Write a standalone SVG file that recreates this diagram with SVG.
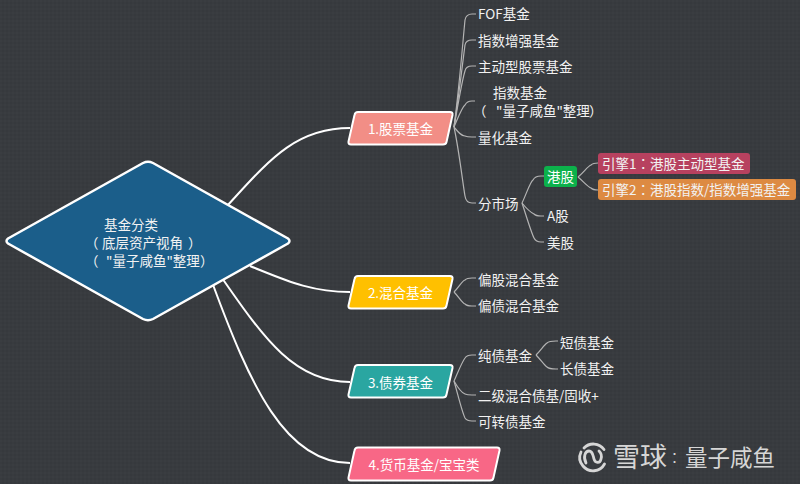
<svg xmlns="http://www.w3.org/2000/svg" width="800" height="484" viewBox="0 0 800 484">
<style>
text{font-family:"Noto Sans CJK SC","Noto Sans",sans-serif;font-size:13.5px;fill:#f2f2f2}
.c{text-anchor:middle;fill:#fff}
.tc{font-family:"Noto Sans CJK TC","Noto Sans",sans-serif}
.main{fill:none;stroke:#fff;stroke-width:2}
.sub{fill:none;stroke:#b4b4b4;stroke-width:1.2}
.box{stroke:#fff;stroke-width:2;stroke-linejoin:round}
.wm{fill:#d6d6d6}
.logo{fill:none;stroke:#d6d6d6;stroke-width:2.800;stroke-linecap:round}
</style>
<defs>
<pattern id="weave" width="4" height="4" patternUnits="userSpaceOnUse">
<rect width="4" height="4" fill="#383b3f"/>
<rect width="2" height="2" fill="#3a3d41"/>
<rect x="2" y="2" width="2" height="2" fill="#36393d"/>
</pattern>
</defs>
<rect width="800" height="484" fill="url(#weave)"/>

<g id="connectors">
<path class="main" d="M212,222C262,170 288,128 350,128"/>
<path class="main" d="M250,266C285,280 310,292 350,292"/>
<path class="main" d="M222,278C265,340 295,382 350,382"/>
<path class="main" d="M212,282C250,385 285,463 350,463"/>
<path class="sub" d="M454,127C459,90 463,40 465,20Q466,14 472,14H476"/>
<path class="sub" d="M454,127C459,95 463,60 465,45Q466,40 472,40H476"/>
<path class="sub" d="M454,127C458,105 462,80 465,71Q466,66 472,66H476"/>
<path class="sub" d="M454,127C458,118 462,107 465,105Q467,101 472,101H475"/>
<path class="sub" d="M454,127C458,132 461,136 465,136Q467,137 472,137H476"/>
<path class="sub" d="M454,127C459,150 463,185 465,196Q466,203 472,203H476"/>
<path class="sub" d="M522,203C526,195 530,182 533,180Q535,176 541,176H544"/>
<path class="sub" d="M522,203C526,208 530,212 534,214Q536,216 541,216H544"/>
<path class="sub" d="M522,203C526,215 531,232 534,238Q536,242 541,242H544"/>
<path class="sub" d="M578,177C584,172 588,166 591,165Q593,163 598,163"/>
<path class="sub" d="M578,177C584,182 588,187 591,188Q593,190 598,190"/>
<path class="sub" d="M454,292C459,287 462,281 465,280Q467,278 472,278H476"/>
<path class="sub" d="M454,292C459,297 462,303 465,304Q467,306 472,306H476"/>
<path class="sub" d="M454,381C458,372 462,362 465,358Q467,355 472,355H476"/>
<path class="sub" d="M454,381C458,388 462,393 465,394Q467,395 472,395H476"/>
<path class="sub" d="M454,381C458,395 462,412 465,418Q467,421 472,421H476"/>
<path class="sub" d="M536,355C541,350 544,345 547,343Q549,341 556,341H558"/>
<path class="sub" d="M536,355C541,360 544,365 547,367Q549,369 556,369H558"/>
</g>

<g id="root">
<path d="M8,238.500L143,163Q148,160.500 153,163L288,238.500Q291,241 288,243.500L153,319Q148,321.500 143,319L8,243.500Q5,241 8,238.500Z" fill="#1b5e8a" stroke="#fff" stroke-width="2.500" stroke-linejoin="round"/>
<text x="104" y="230">基金分类</text>
<text x="85" y="248">（</text>
<text x="102" y="248">底层资产视角</text>
<text x="188" y="248">）</text>
<text x="85" y="266">（</text>
<text x="106" y="266">"量子咸鱼"整理</text>
<text x="200" y="266">）</text>
</g>

<g id="n1"><path class="box" d="M358,112H450Q453,112 452.500,115L446.500,142Q446,144.500 443,144.500H351Q348,144.500 348.500,141.500L354.500,115Q355,112 358,112Z" fill="#f28e86"/><text class="c" x="400.500" y="134">1.股票基金</text></g>
<g id="n2"><path class="box" d="M358,276H450Q453,276 452.500,279L446.500,305.500Q446,308.500 443,308.500H351Q348,308.500 348.500,305.500L354.500,279Q355,276 358,276Z" fill="#ffc000"/><text class="c" x="400.500" y="298">2.混合基金</text></g>
<g id="n3"><path class="box" d="M358,365H450Q453,365 452.500,368L446.500,394.500Q446,397.500 443,397.500H351Q348,397.500 348.500,394.500L354.500,368Q355,365 358,365Z" fill="#2aa6a1"/><text class="c" x="400.500" y="388">3.债券基金</text></g>
<g id="n4"><path class="box" d="M358,447.500H497Q500,447.500 499.500,450.500L493.500,477.500Q493,480.500 490,480.500H351Q348,480.500 348.500,477.500L354.500,450.500Q355,447.500 358,447.500Z" fill="#f86786"/><text class="c" x="424" y="470">4.货币基金/宝宝类</text></g>

<g id="fof"><text x="478" y="19">FOF基金</text></g>
<g id="enhanced"><text x="478" y="46">指数增强基金</text></g>
<g id="active"><text x="478" y="72">主动型股票基金</text></g>
<g id="index"><text x="493" y="98">指数基金</text><text x="473" y="116">（</text><text x="496" y="116">"量子咸鱼"整理</text><text x="589" y="116">）</text></g>
<g id="quant"><text x="478" y="143">量化基金</text></g>
<g id="market"><text x="478" y="209">分市场</text></g>
<g id="hk"><rect x="544" y="166" width="33" height="21" rx="3" fill="#0cb14b"/><text class="c" x="560.500" y="182">港股</text></g>
<g id="engine1"><rect x="598" y="153" width="152" height="21" rx="3" fill="#b7415f"/><text x="602" y="169">引擎1<tspan class="tc">：</tspan>港股主动型基金</text></g>
<g id="engine2"><rect x="598" y="179" width="198" height="21" rx="3" fill="#dd8a42"/><text x="602" y="195">引擎2<tspan class="tc">：</tspan>港股指数/指数增强基金</text></g>
<g id="ashare"><text x="547" y="221">A股</text></g>
<g id="us"><text x="547" y="248">美股</text></g>
<g id="equity-mix"><text x="478" y="285">偏股混合基金</text></g>
<g id="bond-mix"><text x="478" y="311">偏债混合基金</text></g>
<g id="pure"><text x="478" y="361">纯债基金</text></g>
<g id="short"><text x="560" y="348">短债基金</text></g>
<g id="long"><text x="560" y="374">长债基金</text></g>
<g id="tier2"><text x="478" y="401">二级混合债基/固收+</text></g>
<g id="convertible"><text x="478" y="427">可转债基金</text></g>

<g id="brand">
<path class="logo" d="M584,448A13,13 0 0 1 604,449.500M604.500,464A13,13 0 0 1 583,466A13,13 0 0 1 581,452"/>
<path class="logo" d="M586,463C583,457 585,451 589,451C593,451 593,456 594,459C595,463 600,464 601,459C602,456 601,453 599,451"/>
<text class="wm" x="613" y="467" style="font-size:27px">雪球</text>
<text class="wm tc" x="667.500" y="463" style="font-size:14px">：</text>
<text class="wm" x="685" y="466" style="font-size:22.500px">量子咸鱼</text>
</g>
</svg>
